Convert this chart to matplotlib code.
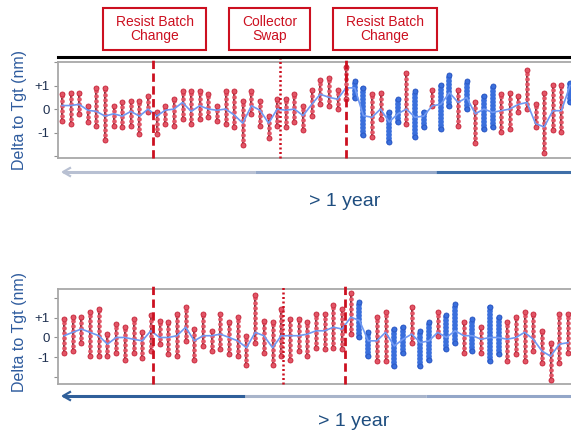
import matplotlib
matplotlib.use('Agg')
import matplotlib.pyplot as plt
from matplotlib.lines import Line2D
import numpy as np

plt.rcParams['font.family'] = ['Liberation Sans', 'DejaVu Sans']

# ---------------- data ----------------
top_mean = [0.15, 0.15, 0.2, -0.05, -0.1, -0.3, -0.2, -0.3, -0.1, -0.3,
            0.0, -0.3, -0.05, 0.0, 0.28, -0.1, 0.14, 0.0, -0.05, 0.0,
            -0.25, -0.6, 0.14, -0.05, -0.6, 0.0, -0.05, 0.0, -0.28, 0.2,
            0.63, 0.5, 0.42, 0.9, 0.9, -0.28, -0.35, 0.0, -0.55, -0.2,
            0.0, -0.35, -0.3, 0.14, 0.2, 0.7, 0.28, 0.49, -0.2, 0.0,
            -0.14, -0.07, 0.0, 0.2, 0.28, -0.62, -0.76, -0.07, -0.07, 1.0]
top_hi = [0.63, 0.7, 0.67, 0.14, 0.9, 0.9, 0.14, 0.28, 0.35, 0.35,
          0.55, -0.14, 0.14, 0.42, 0.76, 0.76, 0.76, 0.63, 0.14, 0.76,
          0.76, 0.35, 0.76, 0.35, -0.28, 0.42, 0.42, 0.63, 0.14, 0.83,
          1.25, 1.32, 0.83, 1.8, 1.18, 0.9, 0.63, 0.7, -0.14, 0.42,
          1.53, 0.76, -0.14, 0.83, 1.04, 1.46, 0.83, 1.18, 0.28, 0.55,
          0.97, 0.63, 0.7, 0.55, 1.67, 0.2, 0.7, 1.04, 1.04, 1.1]
top_lo = [-0.49, -0.63, -0.2, -0.55, -0.7, -1.3, -0.7, -0.76, -0.7, -1.04,
          -0.14, -1.04, -0.63, -0.7, -0.42, -0.63, -0.42, -0.35, -0.49, -0.63,
          -0.76, -1.53, -0.2, -0.7, -1.25, -0.7, -0.76, -0.55, -0.9, -0.28,
          0.2, 0.14, 0.0, 0.42, 0.49, -1.1, -1.18, -0.42, -1.39, -0.55,
          -0.63, -1.18, -0.76, 0.14, -0.83, 0.14, -0.7, 0.0, -1.46, -0.83,
          -0.76, -0.97, -0.83, -0.14, 0.0, -0.76, -1.87, -0.9, -0.97, 0.3]
top_color = ("RRRRRRRRRR" "RRRRRRRRRR" "RRRRRRRRRR" "RRRRBBRRBB"
             "RBBRBBRBRB" "BRRRRRRRRB")

bot_mean = [0.09, 0.26, 0.43, 0.26, 0.09, -0.34, 0.0, 0.0, -0.09, -0.17,
            0.34, 0.0, 0.0, 0.09, 0.52, -0.17, 0.09, 0.09, 0.17, 0.0,
            -0.17, -0.52, 0.26, 0.09, -0.52, 0.09, 0.09, 0.09, 0.17, 0.34,
            0.34, 0.52, 0.43, 1.03, 0.86, -0.17, -0.17, 0.26, -0.43, -0.09,
            0.17, -0.26, -0.17, 0.26, 0.0, 0.34, 0.09, 0.09, -0.09, 0.0,
            0.0, -0.09, 0.0, 0.26, -0.09, -0.69, -0.95, -0.34, -0.26]
bot_hi = [0.95, 1.03, 1.03, 1.29, 1.47, 0.17, 0.69, 0.52, 0.95, 0.26,
          1.12, 0.86, 0.78, 1.2, 1.55, 0.43, 1.2, 0.34, 1.2, 0.78,
          1.03, 0.09, 2.15, 0.86, 0.78, 1.47, 0.95, 0.95, 0.78, 1.2,
          1.2, 1.64, 1.47, 2.24, 1.81, 0.26, 1.03, 1.29, 0.43, 0.52,
          1.55, 0.34, 0.78, 1.29, 1.12, 1.72, 0.78, 0.95, 0.52, 1.55,
          1.03, 0.78, 1.03, 1.29, 1.2, 0.34, -0.26, 1.2, 1.2]
bot_lo = [-0.78, -0.69, -0.26, -0.95, -0.95, -0.95, -0.78, -1.12, -0.78, -1.03,
          -0.69, -0.34, -0.86, -0.95, -0.17, -1.12, -0.43, -0.69, -0.6, -0.86,
          -0.95, -1.38, -0.26, -0.78, -1.38, -0.95, -1.12, -0.69, -0.95, -0.52,
          -0.6, -0.52, -0.6, 0.17, 0.0, -0.95, -1.2, -1.2, -1.47, -0.78,
          -0.26, -1.47, -1.12, 0.09, -0.6, -0.26, -0.78, -0.69, -0.78, -1.2,
          -0.86, -1.2, -0.86, -1.2, -0.69, -1.29, -2.15, -1.29, -0.78]
bot_color = ("RRRRRRRRRR" "RRRRRRRRRR" "RRRRRRRRRR" "RRRRBBRRBB"
             "RBBRBBRBRB" "BRRRRRRRR")

event_labels = ["Resist Batch\nChange", "Collector\nSwap", "Resist Batch\nChange"]
event_styles = ["dashed", "dotted", "dashed"]
top_events = [10.57, 25.3, 33.0]
bot_events = [10.24, 25.2, 32.3]

yticks = [-2, -1, 0, 1, 2]
ytick_labels = ["", "-1", "0", "+1", ""]
span_text = "> 1 year"
ylabel_text = "Delta to Tgt (nm)"

RED = "#e25566"
RED_EDGE = "#c8283c"
BLUE = "#3a6fdc"
BLUE_EDGE = "#2a55c0"
MEAN_C = "#7099f2"
EVENT_C = "#cc1020"
LABEL_C = "#2f5c9e"
TICK_C = "#1f3050"

W, H = 571, 432
fig = plt.figure(figsize=(W / 100, H / 100), dpi=100)


def fx(px):
    return px / W


def fy(py):
    return 1 - py / H


def draw_panel(ax, mean, lo, hi, colors, events, xlim, ylim, ext):
    x = np.arange(len(mean))
    mean = np.asarray(mean)
    lo = np.asarray(lo)
    hi = np.asarray(hi)
    ax.errorbar(x, mean, yerr=[mean - lo, hi - mean], fmt='none',
                ecolor='black', elinewidth=1.3, capsize=1.8, capthick=1.1,
                zorder=2)
    for i in range(len(x)):
        if colors[i] == 'R':
            c, ec, lw, gap = RED, RED_EDGE, 3.4, 1.05
        else:
            c, ec, lw, gap = BLUE, BLUE_EDGE, 4.2, 0.6
        ln, = ax.plot([x[i], x[i]], [lo[i], hi[i]], color=c, lw=lw,
                      linestyle=(0, (0.01, gap)), zorder=3)
        ln.set_dash_capstyle('round')
        ax.plot([x[i], x[i]], [lo[i], hi[i]], 'o', ms=3.6, color=c,
                mec=ec, mew=0.6, zorder=3, linestyle='none')
    ax.plot(x, mean, color=MEAN_C, lw=1.2, zorder=4)
    for ev, st in zip(events, event_styles):
        if st == 'dashed':
            ax.plot([ev, ev], [0, ext], transform=ax.get_xaxis_transform(),
                    color=EVENT_C, lw=2.0, linestyle=(0, (3.0, 1.6)),
                    clip_on=False, zorder=5)
        else:
            ax.plot([ev, ev], [0, ext], transform=ax.get_xaxis_transform(),
                    color=EVENT_C, lw=1.8, linestyle=(0, (0.8, 1.0)),
                    clip_on=False, zorder=5)
    ax.set_xlim(*xlim)
    ax.set_ylim(*ylim)
    ax.set_xticks([])
    ax.set_yticks(yticks)
    ax.set_yticklabels(ytick_labels)
    ax.tick_params(axis='y', length=3, width=0.8, color='#909090',
                   labelsize=9.5, labelcolor=TICK_C, pad=3)
    for s in ax.spines.values():
        s.set_color('#a8a8a8')
        s.set_linewidth(1.3)


# top panel
ax1 = fig.add_axes([fx(58), fy(158), fx(575 - 58), (158 - 62) / H])
draw_panel(ax1, top_mean, top_lo, top_hi, top_color, top_events,
           (-0.46, 59.58), (-2.08, 1.92), 1.06)
ax1.plot([0, 1], [1.055, 1.055], transform=ax1.transAxes, color='black',
         lw=2.2, clip_on=False, zorder=6)

# bottom panel
ax2 = fig.add_axes([fx(58), fy(384), fx(575 - 58), (384 - 289) / H])
draw_panel(ax2, bot_mean, bot_lo, bot_hi, bot_color, bot_events,
           (-0.69, 58.8), (-2.36, 2.46), 1.04)

# annotation boxes
boxes = [(103, 206), (229, 310), (333, 437)]
for (x0, x1), lab in zip(boxes, event_labels):
    fig.patches.append(plt.Rectangle((fx(x0), fy(50)), fx(x1 - x0), (50 - 8) / H,
                                     transform=fig.transFigure, fill=False,
                                     edgecolor=EVENT_C, lw=1.5))
    fig.text(fx((x0 + x1) / 2), fy(29), lab, ha='center', va='center',
             color=EVENT_C, fontsize=10, linespacing=1.05)

# y labels
fig.text(fx(20), fy(110), ylabel_text, rotation=90, ha='center',
         va='center', color=LABEL_C, fontsize=11.5)
fig.text(fx(20), fy(332), ylabel_text, rotation=90, ha='center',
         va='center', color=LABEL_C, fontsize=11.5)


def time_arrow(y, segs):
    for (x0, x1), c in segs:
        fig.add_artist(Line2D([fx(x0), fx(x1)], [fy(y), fy(y)], color=c,
                              lw=2.2, transform=fig.transFigure,
                              solid_capstyle='butt'))
    fig.add_artist(Line2D([fx(70), fx(63), fx(70)],
                          [fy(y - 4), fy(y), fy(y + 4)],
                          color=segs[0][1], lw=1.6,
                          transform=fig.transFigure))


time_arrow(172, [((63, 255), '#b8c0d2'), ((255, 436), '#95a8c8'),
                 ((436, 571), '#3f6fa8')])
time_arrow(396, [((63, 245), '#2f5f9a'), ((245, 426), '#a8b4ca'),
                 ((426, 571), '#93a6c8')])
fig.text(fx(345), fy(201), span_text, ha='center', va='center',
         color='#1f4e80', fontsize=14)
fig.text(fx(354), fy(421), span_text, ha='center', va='center',
         color='#1f4e80', fontsize=14)

fig.savefig('out.png', dpi=100)
